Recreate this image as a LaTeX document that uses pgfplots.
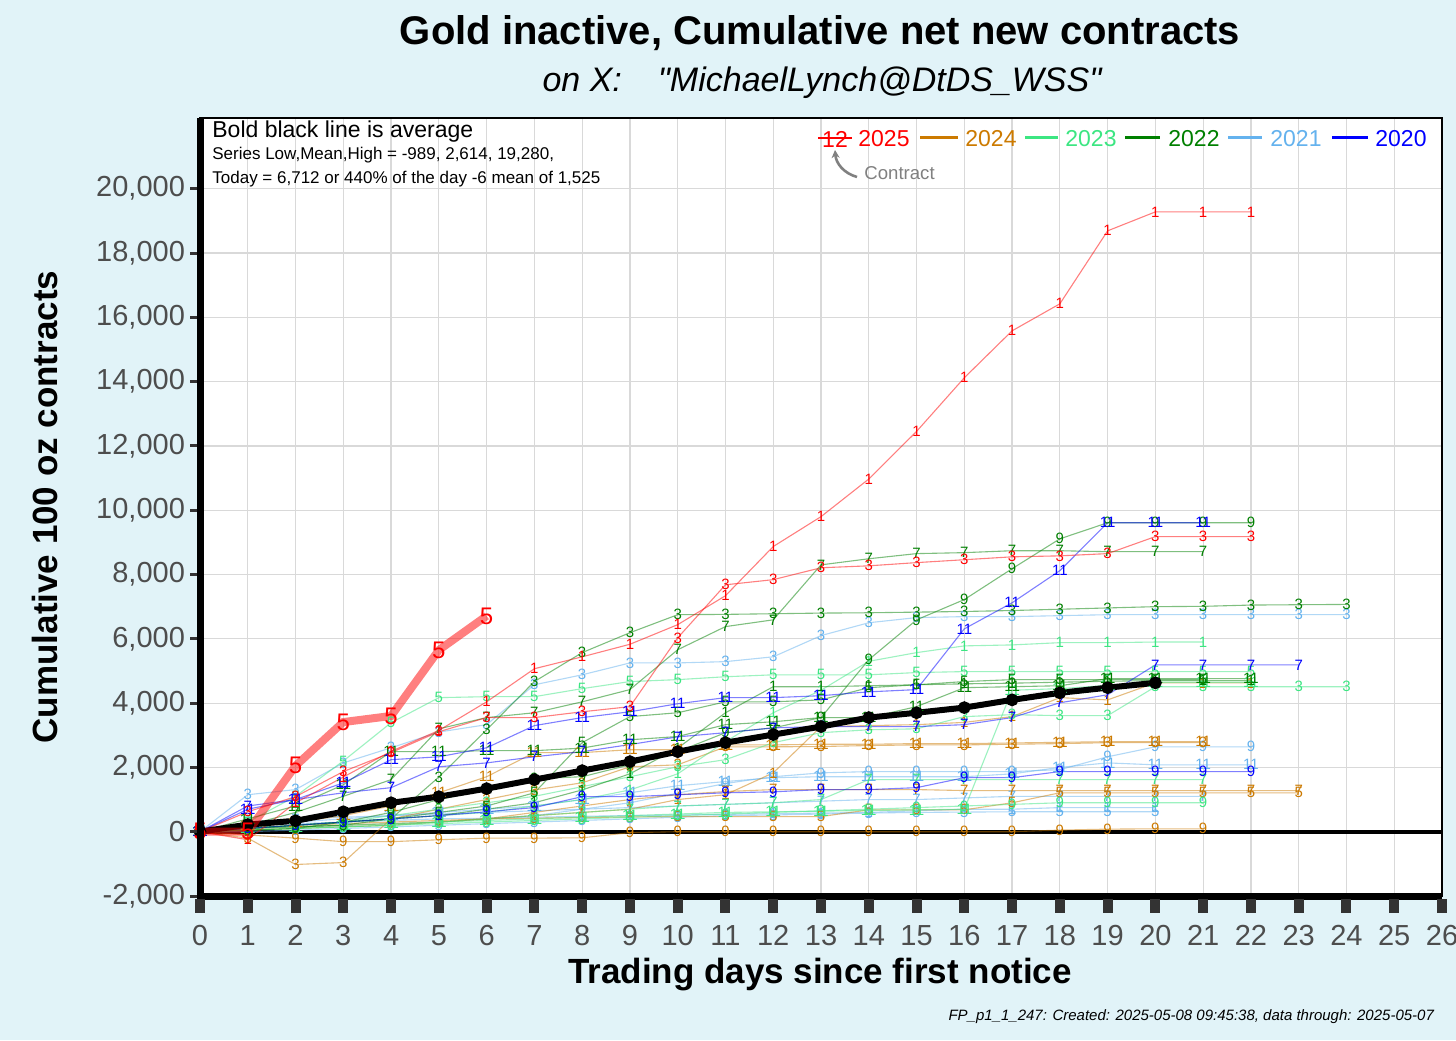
\documentclass[border=0pt]{standalone}
\usepackage{pgfplots}
\pgfplotsset{compat=1.18}
\usepackage{fontspec}
\setmainfont{Liberation Sans}
\newfontfamily\qfont[Ligatures=TeXOff]{Liberation Sans}
\usetikzlibrary{arrows.meta}

\definecolor{bg}{RGB}{225,243,248}
\definecolor{c25}{RGB}{255,0,0}
\definecolor{c24}{RGB}{204,122,0}
\definecolor{c23}{RGB}{60,230,130}
\definecolor{c22}{RGB}{0,128,0}
\definecolor{c21}{RGB}{100,178,238}
\definecolor{c20}{RGB}{0,0,255}
\definecolor{gridc}{RGB}{217,217,217}
\definecolor{tickc}{RGB}{77,77,77}
\definecolor{tickbox}{RGB}{51,51,51}

\newcommand{\lab}{\fontsize{7.5}{7.5}\selectfont}
\pgfplotsset{
  yr/.style={color=#1, draw opacity=0.5, line width=0.55pt, mark=none},
  lb/.style={nodes near coords={#1}},
}

\begin{document}
\begin{tikzpicture}
\fill[bg] (0,0) rectangle (728pt,520pt);
\useasboundingbox (0,0) rectangle (728pt,520pt);
\begin{axis}[
  at={(100pt,72pt)}, anchor=south west,
  scale only axis, width=621pt, height=389pt,
  xmin=0, xmax=26, ymin=-2000, ymax=22200,
  scaled y ticks=false, scaled x ticks=false,
  xtick={0,1,2,3,4,5,6,7,8,9,10,11,12,13,14,15,16,17,18,19,20,21,22,23,24,25,26},
  ytick={-2000,0,2000,4000,6000,8000,10000,12000,14000,16000,18000,20000},
  yticklabels={{-2,000},{0},{2,000},{4,000},{6,000},{8,000},{10,000},{12,000},{14,000},{16,000},{18,000},{20,000}},
  grid=major, grid style={gridc, line width=0.6pt},
  axis line style={black, line width=0.7pt},
  axis background/.style={fill=white},
  tick style={draw=none},
  ticklabel style={font=\fontsize{14.5}{14.5}\selectfont, text=tickc},
  /pgf/number format/assume math mode=true,
  xticklabel style={yshift=-11pt},
  yticklabel style={xshift=-4pt},
  nodes near coords align={center},
  every node near coord/.append style={anchor=center, inner sep=0pt, font=\lab},
]
% zero line
\addplot[black, line width=2pt, forget plot] coordinates {(0,0) (26,0)};

% ---- 2021 ----
\addplot[yr=c21, lb=3] coordinates {(0,0)(1,1150)(2,1310)(3,2140)(4,2610)(5,3100)(6,3330)(7,4570)(8,4880)(9,5250)(10,5250)(11,5290)(12,5440)(13,6100)(14,6500)(15,6660)(16,6690)(17,6690)(18,6720)(19,6750)(20,6750)(21,6750)(22,6750)(23,6750)(24,6750)};
\addplot[yr=c21, lb=9] coordinates {(0,0)(1,100)(2,150)(3,200)(4,250)(5,300)(6,400)(7,500)(8,700)(9,900)(10,1200)(11,1500)(12,1710)(13,1830)(14,1870)(15,1870)(16,1870)(17,1870)(18,1930)(19,2330)(20,2640)(21,2640)(22,2640)};
\addplot[yr=c21, lb=11] coordinates {(0,0)(1,200)(2,300)(3,400)(4,500)(5,600)(6,700)(7,800)(8,1000)(9,1210)(10,1430)(11,1560)(12,1680)(13,1710)(14,1710)(15,1710)(16,1710)(17,1800)(18,2000)(19,2140)(20,2080)(21,2080)(22,2080)};
\addplot[yr=c21, lb=5] coordinates {(0,0)(1,0)(2,50)(3,100)(4,150)(5,200)(6,250)(7,300)(8,350)(9,400)(10,450)(11,500)(12,520)(13,550)(14,580)(15,600)(16,610)(17,620)(18,620)(19,620)(20,620)};
\addplot[yr=c21, lb=7] coordinates {(0,0)(1,300)(2,400)(3,450)(4,500)(5,550)(6,600)(7,650)(8,700)(9,750)(10,800)(11,850)(12,900)(13,950)(14,1000)(15,1000)(16,1050)(17,1100)(18,1100)(19,1100)(20,1100)(21,1100)};
\addplot[yr=c21, lb=1] coordinates {(0,0)(1,200)(2,250)(3,300)(4,350)(5,400)(6,420)(7,450)(8,480)(9,500)(10,520)(11,540)(12,560)(13,580)(14,600)(15,650)(16,700)(17,700)(18,750)(19,750)(20,750)};

% ---- 2024 ----
\addplot[yr=c24, lb=3] coordinates {(0,0)(1,-200)(2,-1020)(3,-960)(4,400)(5,700)(6,1000)(7,1300)(8,1520)(9,2020)(10,2080)(11,2640)(12,2640)(13,2650)(14,2680)(15,2700)(16,2700)(17,2720)(18,2740)(19,2770)(20,2770)(21,2770)};
\addplot[yr=c24, lb=11] coordinates {(0,0)(1,200)(2,300)(3,500)(4,800)(5,1210)(6,1710)(7,2460)(8,2460)(9,2550)(10,2550)(11,2700)(12,2700)(13,2720)(14,2720)(15,2740)(16,2740)(17,2760)(18,2780)(19,2800)(20,2800)(21,2800)};
\addplot[yr=c24, lb=1] coordinates {(0,0)(1,100)(2,150)(3,200)(4,250)(5,300)(6,400)(7,500)(8,600)(9,700)(10,1000)(11,1150)(12,1830)(13,3270)(14,3300)(15,3330)(16,3400)(17,3580)(18,4170)(19,4100)(20,4630)(21,4630)(22,4630)};
\addplot[yr=c24, lb=7] coordinates {(0,0)(1,50)(2,100)(3,150)(4,200)(5,300)(6,400)(7,600)(8,800)(9,1000)(10,1150)(11,1250)(12,1310)(13,1310)(14,1310)(15,1310)(16,1280)(17,1280)(18,1280)(19,1280)(20,1280)(21,1280)(22,1280)(23,1280)};
\addplot[yr=c24, lb=5] coordinates {(0,0)(1,100)(2,200)(3,250)(4,300)(5,350)(6,400)(7,420)(8,440)(9,460)(10,470)(11,470)(12,470)(13,470)(14,680)(15,680)(16,680)(17,900)(18,1210)(19,1210)(20,1210)(21,1210)(22,1210)(23,1210)};
\addplot[yr=c24, lb=9] coordinates {(0,0)(1,-100)(2,-200)(3,-310)(4,-310)(5,-250)(6,-200)(7,-200)(8,-190)(9,-30)(10,0)(11,0)(12,0)(13,0)(14,0)(15,0)(16,0)(17,0)(18,50)(19,80)(20,90)(21,90)};

% ---- 2023 ----
\addplot[yr=c23, lb=1] coordinates {(0,0)(1,100)(2,200)(3,300)(4,400)(5,500)(6,600)(7,800)(8,1000)(9,1300)(10,1800)(11,2800)(12,3700)(13,4400)(14,5300)(15,5570)(16,5780)(17,5810)(18,5880)(19,5880)(20,5900)(21,5900)};
\addplot[yr=c23, lb=5] coordinates {(0,0)(1,300)(2,1100)(3,2200)(4,3390)(5,4170)(6,4200)(7,4200)(8,4450)(9,4670)(10,4730)(11,4820)(12,4880)(13,4880)(14,4880)(15,4950)(16,4980)(17,4980)(18,4980)(19,4980)(20,4980)(21,4980)(22,4980)};
\addplot[yr=c23, lb=3] coordinates {(0,0)(1,100)(2,200)(3,300)(4,500)(5,700)(6,900)(7,1100)(8,1400)(9,1710)(10,2020)(11,2240)(12,2770)(13,3080)(14,3170)(15,3200)(16,3580)(17,3640)(18,3610)(19,3610)(20,4510)(21,4510)(22,4510)(23,4510)(24,4510)};
\addplot[yr=c23, lb=9] coordinates {(0,0)(1,50)(2,100)(3,150)(4,200)(5,250)(6,300)(7,350)(8,400)(9,450)(10,500)(11,550)(12,600)(13,650)(14,700)(15,750)(16,800)(17,850)(18,900)(19,900)(20,900)(21,900)};
\addplot[yr=c23, lb=7] coordinates {(0,0)(1,50)(2,100)(3,150)(4,200)(5,300)(6,400)(7,500)(8,600)(9,700)(10,800)(11,850)(12,900)(13,1000)(14,1620)(15,1620)(16,1620)(17,1620)(18,1620)(19,1620)(20,1620)(21,1620)};
\addplot[yr=c23, lb=11] coordinates {(0,0)(1,100)(2,150)(3,200)(4,250)(5,300)(6,350)(7,400)(8,450)(9,500)(10,550)(11,600)(12,620)(13,640)(14,660)(15,680)(16,700)(17,4400)(18,4450)(19,4550)(20,4650)(21,4650)(22,4650)};

% ---- 2022 ----
\addplot[yr=c22, lb=3] coordinates {(0,0)(1,150)(2,150)(3,200)(4,400)(5,1700)(6,3170)(7,4670)(8,5570)(9,6190)(10,6750)(11,6760)(12,6780)(13,6800)(14,6810)(15,6830)(16,6850)(17,6880)(18,6920)(19,6960)(20,7000)(21,7010)(22,7050)(23,7060)(24,7070)};
\addplot[yr=c22, lb=7] coordinates {(0,0)(1,200)(2,600)(3,1100)(4,1620)(5,3200)(6,3550)(7,3700)(8,4040)(9,4420)(10,5660)(11,6380)(12,6590)(13,8300)(14,8490)(15,8650)(16,8680)(17,8740)(18,8740)(19,8710)(20,8710)(21,8710)};
\addplot[yr=c22, lb=9] coordinates {(0,0)(1,50)(2,100)(3,300)(4,600)(5,1000)(6,1310)(7,1650)(8,1710)(9,2080)(10,2490)(11,3080)(12,3230)(13,3550)(14,5350)(15,6590)(16,7220)(17,8180)(18,9110)(19,9610)(20,9610)(21,9610)(22,9610)};
\addplot[yr=c22, lb=11] coordinates {(0,0)(1,400)(2,800)(3,1460)(4,2490)(5,2490)(6,2520)(7,2520)(8,2600)(9,2860)(10,2960)(11,3330)(12,3420)(13,3550)(14,3550)(15,3890)(16,4480)(17,4510)(18,4540)(19,4760)(20,4760)(21,4760)(22,4760)};
\addplot[yr=c22, lb=1] coordinates {(0,0)(1,100)(2,200)(3,300)(4,400)(5,500)(6,700)(7,900)(8,1300)(9,1800)(10,2600)(11,3700)(12,4510)(13,4510)(14,4540)(15,4570)(16,4600)(17,4620)(18,4650)(19,4680)(20,4700)(21,4700)(22,4700)};
\addplot[yr=c22, lb=5] coordinates {(0,0)(1,100)(2,200)(3,300)(4,400)(5,600)(6,800)(7,1210)(8,2770)(9,3580)(10,3700)(11,4040)(12,4040)(13,4100)(14,4480)(15,4570)(16,4670)(17,4730)(18,4730)(19,4730)(20,4730)(21,4730)};

% ---- 2020 ----
\addplot[yr=c20, lb=11] coordinates {(0,0)(1,700)(2,1000)(3,1520)(4,2240)(5,2330)(6,2610)(7,3300)(8,3550)(9,3730)(10,3980)(11,4170)(12,4170)(13,4230)(14,4350)(15,4420)(16,6310)(17,7120)(18,8120)(19,9610)(20,9610)(21,9610)};
\addplot[yr=c20, lb=7] coordinates {(0,0)(1,800)(2,1000)(3,1210)(4,1370)(5,2020)(6,2140)(7,2330)(8,2490)(9,2710)(10,2950)(11,3080)(12,3230)(13,3270)(14,3270)(15,3270)(16,3330)(17,3550)(18,4010)(19,4260)(20,5190)(21,5190)(22,5190)(23,5190)};
\addplot[yr=c20, lb=9] coordinates {(0,0)(1,100)(2,200)(3,300)(4,400)(5,500)(6,620)(7,750)(8,1090)(9,1090)(10,1150)(11,1210)(12,1240)(13,1310)(14,1310)(15,1370)(16,1680)(17,1680)(18,1870)(19,1870)(20,1870)(21,1870)(22,1870)};

% ---- 2025 ----
\addplot[yr=c25, lb=1] coordinates {(0,0)(1,-250)(2,900)(3,1700)(4,2500)(5,3150)(6,4040)(7,5070)(8,5440)(9,5830)(10,6440)(11,7340)(12,8870)(13,9800)(14,10970)(15,12450)(16,14120)(17,15580)(18,16420)(19,18690)(20,19280)(21,19280)(22,19280)};
\addplot[yr=c25, lb=3] coordinates {(0,0)(1,620)(2,1090)(3,1870)(4,2460)(5,3110)(6,3550)(7,3550)(8,3730)(9,3890)(10,6030)(11,7680)(12,7840)(13,8210)(14,8270)(15,8370)(16,8460)(17,8550)(18,8580)(19,8650)(20,9180)(21,9180)(22,9180)};

% ---- average ----
\addplot[black, line width=3pt, mark=*, mark size=1.6pt] coordinates {(0,0)(1,220)(2,340)(3,620)(4,900)(5,1090)(6,1340)(7,1620)(8,1900)(9,2180)(10,2490)(11,2770)(12,3020)(13,3270)(14,3550)(15,3700)(16,3860)(17,4100)(18,4320)(19,4480)(20,4630)};

% ---- current contract ----
\addplot[color=c25, draw opacity=0.5, line width=4pt, mark=none, nodes near coords={5}, every node near coord/.append style={font=\fontsize{12}{12}\selectfont}] coordinates {(0,0)(1,0)(2,2050)(3,3410)(4,3600)(5,5650)(6,6712)};
\end{axis}

% thick left and bottom axis lines
\draw[black, line width=3.5pt] (100pt,70.25pt) -- (100pt,461pt);
\draw[black, line width=3.5pt] (98.25pt,72pt) -- (721pt,72pt);
% x tick boxes
\foreach \i in {0,...,26} {
  \fill[tickbox] ({100pt+\i*23.8846pt-2.5pt},63.5pt) rectangle ++(5pt,7pt);
}
% y ticks
\foreach \j in {0,...,11} {
  \draw[tickbox, line width=1.5pt] (95pt,{72pt+\j*32.149pt}) -- (98.5pt,{72pt+\j*32.149pt});
}

% titles
\node[font=\fontsize{20}{24}\selectfont\bfseries] at (410pt,503.5pt) {Gold inactive, Cumulative net new contracts};
\node[font=\fontsize{17}{20}\qfont\itshape] at (411pt,478.5pt) {on X:\hspace{18pt}"MichaelLynch@DtDS\_WSS"};
\node[rotate=90, font=\fontsize{17.5}{20}\selectfont\bfseries] at (22.5pt,266.5pt) {Cumulative 100 oz contracts};
\node[font=\fontsize{17.5}{20}\selectfont\bfseries] at (410pt,32.5pt) {Trading days since first notice};
\node[anchor=east, font=\fontsize{7.5}{9}\selectfont\itshape] at (720.5pt,11.5pt) {FP\_p1\_1\_247: Created: 2025-05-08 09:45:38, data through: 2025-05-07};

% annotation
\node[anchor=west, inner sep=0pt, font=\fontsize{11.5}{12}\selectfont] at (106pt,454pt) {Bold black line is average};
\node[anchor=west, inner sep=0pt, font=\fontsize{8.5}{10}\selectfont] at (106pt,442.5pt) {Series Low,Mean,High = -989, 2,614, 19,280,};
\node[anchor=west, inner sep=0pt, font=\fontsize{8.5}{10}\selectfont] at (106pt,430.5pt) {Today = 6,712 or 440\% of the day -6 mean of 1,525};

% legend
\begin{scope}[font=\fontsize{11.5}{12}\selectfont]
\node[text=c25, inner sep=0pt] at (417.5pt,450.5pt) {12};
\draw[c25, line width=1.3pt] (409pt,451pt) -- (426pt,451pt);
\node[anchor=west, inner sep=0pt, text=c25] at (429pt,450.5pt) {2025};
\draw[c24, line width=1.5pt] (460pt,451pt) -- (479pt,451pt);
\node[anchor=west, inner sep=0pt, text=c24] at (482.5pt,450.5pt) {2024};
\draw[c23, line width=1.5pt] (512.5pt,451pt) -- (529pt,451pt);
\node[anchor=west, inner sep=0pt, text=c23] at (532.5pt,450.5pt) {2023};
\draw[c22, line width=1.5pt] (562.5pt,451pt) -- (580pt,451pt);
\node[anchor=west, inner sep=0pt, text=c22] at (584pt,450.5pt) {2022};
\draw[c21, line width=1.5pt] (614pt,451pt) -- (631pt,451pt);
\node[anchor=west, inner sep=0pt, text=c21] at (635pt,450.5pt) {2021};
\draw[c20, line width=1.5pt] (666pt,451pt) -- (684pt,451pt);
\node[anchor=west, inner sep=0pt, text=c20] at (687.5pt,450.5pt) {2020};
\end{scope}
\node[anchor=west, inner sep=0pt, text=gray, font=\fontsize{9.3}{10}\selectfont] at (432pt,433.5pt) {Contract};
\draw[gray, line width=1.3pt, -{Stealth[length=4pt,width=4pt]}] (428.5pt,431.5pt) to[bend left=35] (417.5pt,445pt);
\end{tikzpicture}
\end{document}
